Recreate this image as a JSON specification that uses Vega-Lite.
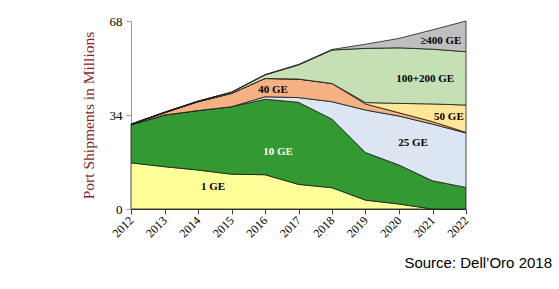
{
  "$schema": "https://vega.github.io/schema/vega-lite/v6.json",
  "width": 335,
  "height": 188,
  "autosize": "none",
  "padding": {"left": 131, "top": 21, "right": 93, "bottom": 80},
  "background": "white",
  "config": {
    "view": {"stroke": null},
    "font": "Liberation Serif"
  },
  "title": {
    "text": "Source: Dell’Oro 2018",
    "orient": "bottom",
    "anchor": "end",
    "frame": "group",
    "font": "Liberation Sans",
    "fontSize": 15,
    "fontWeight": "normal",
    "color": "#000000",
    "dx": 86,
    "offset": 17
  },
  "datasets": {
    "ports": [
      {"year": 2012, "speed": "1 GE", "rank": 1, "value": 16.7},
      {"year": 2012, "speed": "10 GE", "rank": 2, "value": 13.7},
      {"year": 2012, "speed": "25 GE", "rank": 3, "value": 0},
      {"year": 2012, "speed": "40 GE", "rank": 4, "value": 0.2},
      {"year": 2012, "speed": "50 GE", "rank": 5, "value": 0},
      {"year": 2012, "speed": "100+200 GE", "rank": 6, "value": 0.1},
      {"year": 2012, "speed": "≥400 GE", "rank": 7, "value": 0},

      {"year": 2013, "speed": "1 GE", "rank": 1, "value": 15.3},
      {"year": 2013, "speed": "10 GE", "rank": 2, "value": 18.7},
      {"year": 2013, "speed": "25 GE", "rank": 3, "value": 0},
      {"year": 2013, "speed": "40 GE", "rank": 4, "value": 0.8},
      {"year": 2013, "speed": "50 GE", "rank": 5, "value": 0},
      {"year": 2013, "speed": "100+200 GE", "rank": 6, "value": 0.2},
      {"year": 2013, "speed": "≥400 GE", "rank": 7, "value": 0},

      {"year": 2014, "speed": "1 GE", "rank": 1, "value": 14.1},
      {"year": 2014, "speed": "10 GE", "rank": 2, "value": 21.5},
      {"year": 2014, "speed": "25 GE", "rank": 3, "value": 0},
      {"year": 2014, "speed": "40 GE", "rank": 4, "value": 3.2},
      {"year": 2014, "speed": "50 GE", "rank": 5, "value": 0},
      {"year": 2014, "speed": "100+200 GE", "rank": 6, "value": 0.2},
      {"year": 2014, "speed": "≥400 GE", "rank": 7, "value": 0},

      {"year": 2015, "speed": "1 GE", "rank": 1, "value": 12.6},
      {"year": 2015, "speed": "10 GE", "rank": 2, "value": 24.4},
      {"year": 2015, "speed": "25 GE", "rank": 3, "value": 0},
      {"year": 2015, "speed": "40 GE", "rank": 4, "value": 4.8},
      {"year": 2015, "speed": "50 GE", "rank": 5, "value": 0},
      {"year": 2015, "speed": "100+200 GE", "rank": 6, "value": 0.4},
      {"year": 2015, "speed": "≥400 GE", "rank": 7, "value": 0.1},

      {"year": 2016, "speed": "1 GE", "rank": 1, "value": 12.4},
      {"year": 2016, "speed": "10 GE", "rank": 2, "value": 27.3},
      {"year": 2016, "speed": "25 GE", "rank": 3, "value": 0.9},
      {"year": 2016, "speed": "40 GE", "rank": 4, "value": 6.6},
      {"year": 2016, "speed": "50 GE", "rank": 5, "value": 0},
      {"year": 2016, "speed": "100+200 GE", "rank": 6, "value": 1.3},
      {"year": 2016, "speed": "≥400 GE", "rank": 7, "value": 0.1},

      {"year": 2017, "speed": "1 GE", "rank": 1, "value": 8.9},
      {"year": 2017, "speed": "10 GE", "rank": 2, "value": 29.7},
      {"year": 2017, "speed": "25 GE", "rank": 3, "value": 1.7},
      {"year": 2017, "speed": "40 GE", "rank": 4, "value": 6.7},
      {"year": 2017, "speed": "50 GE", "rank": 5, "value": 0},
      {"year": 2017, "speed": "100+200 GE", "rank": 6, "value": 5.1},
      {"year": 2017, "speed": "≥400 GE", "rank": 7, "value": 0.2},

      {"year": 2018, "speed": "1 GE", "rank": 1, "value": 7.7},
      {"year": 2018, "speed": "10 GE", "rank": 2, "value": 24.8},
      {"year": 2018, "speed": "25 GE", "rank": 3, "value": 6.3},
      {"year": 2018, "speed": "40 GE", "rank": 4, "value": 6.6},
      {"year": 2018, "speed": "50 GE", "rank": 5, "value": 0},
      {"year": 2018, "speed": "100+200 GE", "rank": 6, "value": 12.1},
      {"year": 2018, "speed": "≥400 GE", "rank": 7, "value": 0.2},

      {"year": 2019, "speed": "1 GE", "rank": 1, "value": 3.2},
      {"year": 2019, "speed": "10 GE", "rank": 2, "value": 17.2},
      {"year": 2019, "speed": "25 GE", "rank": 3, "value": 15.4},
      {"year": 2019, "speed": "40 GE", "rank": 4, "value": 2.2},
      {"year": 2019, "speed": "50 GE", "rank": 5, "value": 0.5},
      {"year": 2019, "speed": "100+200 GE", "rank": 6, "value": 19.6},
      {"year": 2019, "speed": "≥400 GE", "rank": 7, "value": 1.5},

      {"year": 2020, "speed": "1 GE", "rank": 1, "value": 1.8},
      {"year": 2020, "speed": "10 GE", "rank": 2, "value": 14.1},
      {"year": 2020, "speed": "25 GE", "rank": 3, "value": 17.7},
      {"year": 2020, "speed": "40 GE", "rank": 4, "value": 1.2},
      {"year": 2020, "speed": "50 GE", "rank": 5, "value": 3.4},
      {"year": 2020, "speed": "100+200 GE", "rank": 6, "value": 20.1},
      {"year": 2020, "speed": "≥400 GE", "rank": 7, "value": 3.4},

      {"year": 2021, "speed": "1 GE", "rank": 1, "value": 0},
      {"year": 2021, "speed": "10 GE", "rank": 2, "value": 10.2},
      {"year": 2021, "speed": "25 GE", "rank": 3, "value": 20.5},
      {"year": 2021, "speed": "40 GE", "rank": 4, "value": 0.9},
      {"year": 2021, "speed": "50 GE", "rank": 5, "value": 6.4},
      {"year": 2021, "speed": "100+200 GE", "rank": 6, "value": 19.8},
      {"year": 2021, "speed": "≥400 GE", "rank": 7, "value": 7.0},

      {"year": 2022, "speed": "1 GE", "rank": 1, "value": 0},
      {"year": 2022, "speed": "10 GE", "rank": 2, "value": 7.8},
      {"year": 2022, "speed": "25 GE", "rank": 3, "value": 19.7},
      {"year": 2022, "speed": "40 GE", "rank": 4, "value": 0.2},
      {"year": 2022, "speed": "50 GE", "rank": 5, "value": 9.9},
      {"year": 2022, "speed": "100+200 GE", "rank": 6, "value": 19.3},
      {"year": 2022, "speed": "≥400 GE", "rank": 7, "value": 11.1}
    ],
    "labels": [
      {"label": "1 GE", "year": 2014.45, "value": 8.0},
      {"label": "10 GE", "year": 2016.39, "value": 20.6},
      {"label": "25 GE", "year": 2020.42, "value": 23.9},
      {"label": "40 GE", "year": 2016.24, "value": 43.0},
      {"label": "50 GE", "year": 2021.49, "value": 33.3},
      {"label": "100+200 GE", "year": 2020.78, "value": 47.0},
      {"label": "≥400 GE", "year": 2021.25, "value": 60.8}
    ]
  },
  "encoding": {
    "x": {
      "field": "year",
      "type": "quantitative",
      "scale": {"domain": [2012, 2022], "nice": false, "zero": false},
      "axis": {
        "title": null,
        "values": [2012, 2013, 2014, 2015, 2016, 2017, 2018, 2019, 2020, 2021, 2022],
        "tickCount": 11,
        "format": "d",
        "labelAngle": -45,
        "labelAlign": "right",
        "labelBaseline": "middle",
        "labelOverlap": false,
        "labelBound": false,
        "labelFlush": false,
        "labelFont": "Liberation Serif",
        "labelFontSize": 12,
        "labelColor": "#000000",
        "labelPadding": 4,
        "domainColor": "#444444",
        "tickColor": "#444444",
        "tickSize": 5,
        "grid": false
      }
    },
    "y": {
      "field": "value",
      "type": "quantitative",
      "scale": {"domain": [0, 68], "nice": false},
      "axis": {
        "title": "Port Shipments in Millions",
        "titleFont": "Liberation Serif",
        "titleFontSize": 15.5,
        "titleFontWeight": "normal",
        "titleColor": "#8B1E1E",
        "titlePadding": 13,
        "values": [0, 34, 68],
        "labelFont": "Liberation Serif",
        "labelFontSize": 13,
        "labelColor": "#000000",
        "labelPadding": 4,
        "domainColor": "#999999",
        "tickColor": "#999999",
        "tickSize": 5,
        "grid": false
      }
    }
  },
  "layer": [
    {
      "data": {"name": "ports"},
      "mark": {"type": "area", "stroke": "#1a1a1a", "strokeWidth": 0.8, "strokeJoin": "round"},
      "encoding": {
        "color": {
          "field": "speed",
          "type": "nominal",
          "legend": null,
          "scale": {
            "domain": ["1 GE", "10 GE", "25 GE", "40 GE", "50 GE", "100+200 GE", "≥400 GE"],
            "range": ["#FFFF99", "#339933", "#DCE6F2", "#F4B183", "#FFE699", "#C5E0B4", "#BFBFBF"]
          }
        },
        "order": {"field": "rank", "type": "quantitative", "sort": "ascending"}
      }
    },
    {
      "data": {"name": "labels"},
      "mark": {"type": "text", "font": "Liberation Serif", "fontSize": 11, "fontWeight": "bold", "align": "center", "baseline": "middle"},
      "encoding": {
        "text": {"field": "label"},
        "color": {
          "condition": {"test": "datum.label === '10 GE'", "value": "#ffffff"},
          "value": "#000000"
        }
      }
    }
  ]
}
